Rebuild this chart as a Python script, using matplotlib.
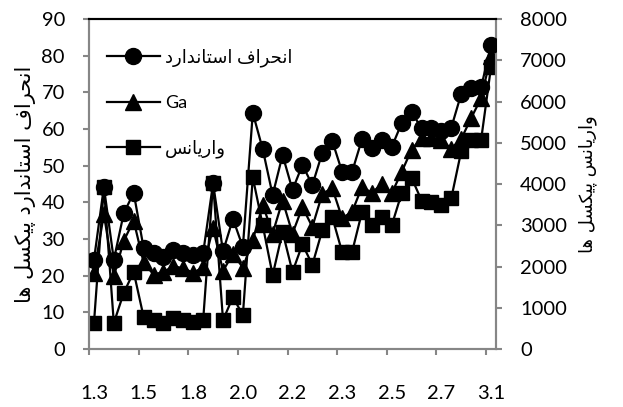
import matplotlib
matplotlib.use("Agg")
import matplotlib.pyplot as plt
from matplotlib.ticker import FixedLocator, MultipleLocator

# ---- data -------------------------------------------------------------
tick_labels = ["1.3", "1.5", "1.8", "2.0", "2.2", "2.3", "2.5", "2.7", "3.1"]
label_step = 5  # one label every 5 categories

std_dev = [24.3, 44.2, 24.3, 37.0, 42.6, 27.6, 26.2, 25.1, 27.0, 26.2,
           25.6, 26.2, 45.2, 26.6, 35.5, 27.8, 64.4, 54.5, 42.0, 52.9,
           43.4, 50.2, 44.7, 53.5, 56.8, 48.3, 48.3, 57.2, 54.8, 57.0,
           55.1, 61.6, 64.6, 60.2, 60.2, 59.5, 60.4, 69.6, 71.1, 71.4,
           82.9]

ga = [20.6, 36.8, 19.8, 29.5, 35.0, 23.6, 20.3, 21.0, 22.6, 22.0,
      20.8, 22.3, 33.0, 21.3, 26.0, 22.2, 29.7, 39.3, 31.5, 40.5,
      31.5, 38.7, 33.3, 42.3, 43.9, 35.7, 37.4, 44.2, 42.6, 45.0,
      42.5, 48.3, 54.4, 57.5, 57.5, 57.0, 54.6, 57.3, 63.0, 68.4,
      80.0]

variance = [630, 3930, 630, 1360, 1870, 780, 700, 630, 750, 700,
            650, 700, 4020, 700, 1260, 820, 4160, 3000, 1790, 2840,
            1870, 2540, 2040, 2880, 3200, 2350, 2350, 3320, 3000, 3200,
            3000, 3780, 4150, 3600, 3560, 3490, 3660, 4800, 5070, 5070,
            6840]

name_std = "انحراف استاندارد"
name_ga = "Ga"
name_var = "واریانس"
ylabel_left = "انحراف استاندارد پیکسل ها"
ylabel_right = "واریانس پیکسل ها"

# ---- minimal Persian shaping (presentation forms, visual order) -------
# char: (isolated, final, initial, medial); None => joins only to the right
FORMS = {
    "ا": ("\uFE8D", "\uFE8E", None, None),
    "د": ("\uFEA9", "\uFEAA", None, None),
    "ر": ("\uFEAD", "\uFEAE", None, None),
    "و": ("\uFEED", "\uFEEE", None, None),
    "ن": ("\uFEE5", "\uFEE6", "\uFEE7", "\uFEE8"),
    "ح": ("\uFEA1", "\uFEA2", "\uFEA3", "\uFEA4"),
    "ف": ("\uFED1", "\uFED2", "\uFED3", "\uFED4"),
    "س": ("\uFEB1", "\uFEB2", "\uFEB3", "\uFEB4"),
    "ت": ("\uFE95", "\uFE96", "\uFE97", "\uFE98"),
    "ی": ("\uFBFC", "\uFBFD", "\uFBFE", "\uFBFF"),
    "پ": ("\uFB56", "\uFB57", "\uFB58", "\uFB59"),
    "ک": ("\uFB8E", "\uFB8F", "\uFB90", "\uFB91"),
    "ل": ("\uFEDD", "\uFEDE", "\uFEDF", "\uFEE0"),
    "ه": ("\uFEE9", "\uFEEA", "\uFEEB", "\uFEEC"),
    "م": ("\uFEE1", "\uFEE2", "\uFEE3", "\uFEE4"),
}


def shape(text):
    out = []
    for i, ch in enumerate(text):
        if ch not in FORMS:
            out.append(ch)
            continue
        prev = text[i - 1] if i > 0 else None
        nxt = text[i + 1] if i + 1 < len(text) else None
        f = FORMS[ch]
        join_prev = prev in FORMS and FORMS[prev][2] is not None
        join_next = f[2] is not None and nxt in FORMS
        if join_prev and join_next:
            out.append(f[3])
        elif join_prev:
            out.append(f[1])
        elif join_next:
            out.append(f[2])
        else:
            out.append(f[0])
    if any(c in FORMS for c in text):
        return "".join(reversed(out))
    return text


FAMILY = ["Lato", "DejaVu Sans"]
plt.rcParams["font.family"] = FAMILY

GRAY = "#868686"

fig = plt.figure(figsize=(6.23, 4.07), dpi=100)
W, H = 623, 407
ax = fig.add_axes([89 / W, 1 - 349 / H, 407 / W, 330 / H])
ax2 = ax.twinx()

x = list(range(len(std_dev)))

# secondary series first (kept underneath the primary ones)
l_var, = ax2.plot(x, variance, color="black", lw=1.6, marker="s",
                  markersize=10, label=shape(name_var))
l_ga, = ax.plot(x, ga, color="black", lw=1.6, marker="^",
                markersize=11, label=name_ga, zorder=2)
l_std, = ax.plot(x, std_dev, color="black", lw=1.6, marker="o",
                 markersize=11.5, label=shape(name_std), zorder=3)

ax.set_zorder(ax2.get_zorder() + 1)
ax.patch.set_visible(False)

ax.set_xlim(-0.5, len(x) - 0.5)
ax.set_ylim(0, 90)
ax2.set_ylim(0, 8000)
ax.yaxis.set_major_locator(MultipleLocator(10))
ax2.yaxis.set_major_locator(MultipleLocator(1000))

label_pos = [i * label_step for i in range(len(tick_labels))]
ax.xaxis.set_major_locator(FixedLocator(label_pos))
ax.set_xticklabels(tick_labels)
ax.xaxis.set_minor_locator(FixedLocator([p - 0.5 for p in label_pos]))
ax.tick_params(axis="x", which="major", length=0, pad=26, labelsize=14.5)
ax.tick_params(axis="x", which="minor", length=4.3, width=1.5, color=GRAY)
ax.tick_params(axis="y", length=4.3, width=1.5, color=GRAY, pad=13,
               labelsize=14.5)
ax2.tick_params(axis="y", length=4.3, width=1.5, color=GRAY, pad=13,
                labelsize=14.5)

for a in (ax, ax2):
    for side in ("left", "right", "bottom"):
        a.spines[side].set_color(GRAY)
        a.spines[side].set_linewidth(1.5)
    a.spines["top"].set_color("black")
    a.spines["top"].set_linewidth(1.5)

ax.set_ylabel(shape(ylabel_left), fontsize=15, labelpad=4,
              family=["DejaVu Sans"])
ax2.set_ylabel(shape(ylabel_right), fontsize=13, rotation=90,
               labelpad=8, family=["DejaVu Sans"])

leg = ax.legend([l_std, l_ga, l_var],
                [shape(name_std), name_ga, shape(name_var)],
                loc="upper left", bbox_to_anchor=(0.045, 0.91),
                frameon=False, handlelength=2.9, handletextpad=0.3,
                labelspacing=1.55, fontsize=13, borderaxespad=0,
                borderpad=0)

fig.savefig("out.png", dpi=100)
